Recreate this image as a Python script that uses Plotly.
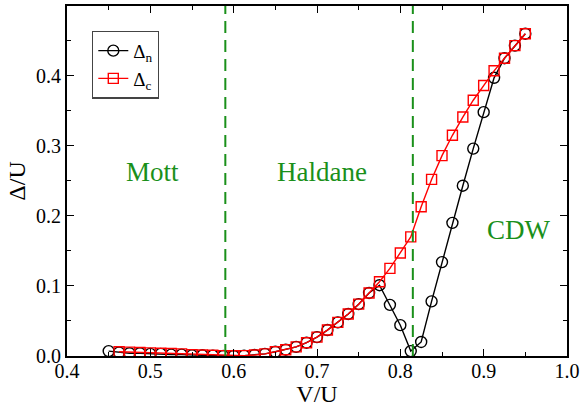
import plotly.graph_objects as go

# ---- data ----
v_n = [0.45, 0.4625, 0.475, 0.4875, 0.5, 0.5125, 0.525, 0.5375, 0.55, 0.5625,
       0.575, 0.5875, 0.6, 0.6125, 0.625, 0.6375, 0.65, 0.6625, 0.675, 0.6875,
       0.7, 0.7125, 0.725, 0.7375, 0.75, 0.7625, 0.775, 0.7875, 0.8, 0.8125,
       0.825, 0.8375, 0.85, 0.8625, 0.875, 0.8875, 0.9, 0.9125, 0.925, 0.9375, 0.95]
delta_n = [0.007, 0.005, 0.004, 0.004, 0.003, 0.003, 0.002, 0.002, 0.001, 0.001,
           0.0005, 0.0, 0.0, 0.0005, 0.0015, 0.003, 0.006, 0.009, 0.013, 0.019,
           0.027, 0.037, 0.048, 0.060, 0.074, 0.090, 0.101, 0.073, 0.044, 0.007,
           0.020, 0.078, 0.134, 0.190, 0.243, 0.296, 0.348, 0.397, 0.425, 0.443, 0.460]

v_c = [0.4625, 0.475, 0.4875, 0.5, 0.5125, 0.525, 0.5375, 0.55, 0.5625,
       0.575, 0.5875, 0.6, 0.6125, 0.625, 0.6375, 0.65, 0.6625, 0.675, 0.6875,
       0.7, 0.7125, 0.725, 0.7375, 0.75, 0.7625, 0.775, 0.7875, 0.8, 0.8125,
       0.825, 0.8375, 0.85, 0.8625, 0.875, 0.8875, 0.9, 0.9125, 0.925, 0.9375, 0.95]
delta_c = [0.006, 0.0055, 0.005, 0.0045, 0.004, 0.0035, 0.003, 0.002, 0.0015,
           0.001, 0.0005, 0.0003, 0.0005, 0.0015, 0.003, 0.006, 0.009, 0.013, 0.019,
           0.027, 0.037, 0.048, 0.060, 0.074, 0.090, 0.106, 0.125, 0.147, 0.170,
           0.213, 0.252, 0.286, 0.315, 0.341, 0.365, 0.386, 0.407, 0.425, 0.443, 0.460]

phase_boundaries = [0.59, 0.815]
phase_labels = ["Mott", "Haldane", "CDW"]
phase_label_x = [0.502, 0.706, 0.942]
phase_label_y = [0.262, 0.262, 0.180]

GREEN = "#1a901a"
FONT = "Liberation Serif, Times New Roman, DejaVu Serif, serif"

fig = go.Figure()
fig.add_trace(go.Scatter(
    x=v_n, y=delta_n, mode="lines+markers", name="Δ<sub>n</sub>",
    line=dict(color="black", width=1.4),
    marker=dict(symbol="circle-open", size=11, color="black", line=dict(width=1.4)),
))
fig.add_trace(go.Scatter(
    x=v_c, y=delta_c, mode="lines+markers", name="Δ<sub>c</sub>",
    line=dict(color="red", width=1.4),
    marker=dict(symbol="square-open", size=10, color="red", line=dict(width=1.4)),
))

for xb in phase_boundaries:
    fig.add_shape(type="line", x0=xb, x1=xb, y0=0, y1=1, xref="x", yref="paper",
                  line=dict(color=GREEN, width=2, dash="12px,7px"))

for t, lx, ly in zip(phase_labels, phase_label_x, phase_label_y):
    fig.add_annotation(x=lx, y=ly, text=t, showarrow=False,
                       font=dict(family=FONT, size=27, color=GREEN))

axis_common = dict(
    showline=True, linecolor="black", linewidth=2, mirror="allticks",
    ticks="inside", ticklen=7, tickwidth=1.3, tickcolor="black",
    showgrid=False, zeroline=False, automargin=False,
    tickfont=dict(family=FONT, size=20, color="black"),
    minor=dict(ticks="inside", ticklen=4, tickwidth=1.3, tickcolor="black", dtick=0.05, showgrid=False),
)

fig.update_xaxes(range=[0.4, 1.0], dtick=0.1, tick0=0.4, tickformat=".1f",
                 ticklabelstandoff=-4,
                 title=dict(text="V/U", font=dict(family=FONT, size=24, color="black"), standoff=0),
                 **axis_common)
fig.update_yaxes(range=[0, 0.4995], dtick=0.1, tick0=0, tickformat=".1f",
                 title=dict(text="Δ/U", font=dict(family=FONT, size=24, color="black"), standoff=4),
                 **axis_common)

fig.update_layout(
    width=583, height=407,
    margin=dict(l=67, r=16, t=6, b=51),
    plot_bgcolor="white", paper_bgcolor="white",
    font=dict(family=FONT),
    showlegend=True,
    legend=dict(x=0.05, y=0.93, xanchor="left", yanchor="top",
                bordercolor="#444", borderwidth=1.3, bgcolor="white",
                font=dict(family=FONT, size=19, color="black"),
                itemwidth=30, tracegroupgap=0),
)

fig.write_html("out.html", config={"displayModeBar": False},
               post_script="document.body.style.margin='0';document.body.style.padding='0';")
